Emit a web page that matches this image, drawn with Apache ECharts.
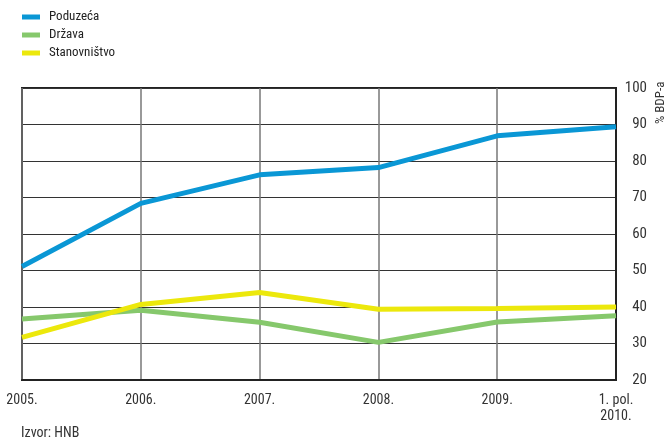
<!DOCTYPE html>
<html><head><meta charset="utf-8">
<script src="https://cdn.jsdelivr.net/npm/echarts@6/dist/echarts.min.js"></script>
<style>html,body{margin:0;padding:0;background:#fff}#c{width:667px;height:442px}</style>
</head><body><div id="c"></div>
<script>
const categories = ['2005.', '2006.', '2007.', '2008.', '2009.', '1. pol.\n2010.'];
const poduzeca = [51.1, 68.4, 76.2, 78.2, 86.9, 89.4];
const drzava = [36.7, 39.1, 35.8, 30.3, 35.9, 37.6];
const stanovnistvo = [31.7, 40.7, 44.0, 39.4, 39.6, 40.0];
const seriesNames = ['Poduzeća', 'Država', 'Stanovništvo'];
const seriesColors = ['#0a97d5', '#86c86c', '#ece80c'];
const yTicks = [20, 100, 10];
const FONT = '"Roboto Condensed", "DejaVu Sans Condensed", sans-serif';
const chart = echarts.init(document.getElementById('c'), null, {renderer: 'canvas'});
const mk = (name, data, color) => ({
  name, type: 'line', data, symbol: 'none', smooth: false,
  lineStyle: {width: 5, color}, itemStyle: {color}
});
const legendTops = [10, 28, 46];
chart.setOption({
  animation: false,
  textStyle: {fontFamily: FONT},
  legend: seriesNames.map((n, i) => ({
    orient: 'vertical', left: 22, top: legendTops[i], padding: 0, itemWidth: 18, itemHeight: 5,
    icon: 'rect', textStyle: {fontFamily: FONT, fontSize: 13, color: '#222', lineHeight: 14, padding: [0, 0, 0, 4]},
    data: [n]
  })),
  grid: {left: 22, right: 51, top: 88, bottom: 62, show: true, borderColor: '#222', borderWidth: 2, containLabel: false},
  xAxis: {
    type: 'category', data: categories, boundaryGap: false,
    axisLine: {show: true, lineStyle: {color: '#222', width: 2}},
    axisTick: {show: false},
    axisLabel: {fontFamily: FONT, fontSize: 14, color: '#333', margin: 12, lineHeight: 16, interval: 0},
    splitLine: {show: true, lineStyle: {color: '#777', width: 1.5}}
  },
  yAxis: {
    type: 'value', position: 'right', min: yTicks[0], max: yTicks[1], interval: yTicks[2],
    axisLine: {show: true, lineStyle: {color: '#222', width: 2}},
    axisTick: {show: false},
    axisLabel: {fontFamily: FONT, fontSize: 15, color: '#333', align: 'right', margin: 31},
    splitLine: {show: true, lineStyle: {color: '#333', width: 1}}
  },
  graphic: [
    {type: 'text', left: 21, top: 426, style: {text: 'Izvor: HNB', font: '14px ' + FONT, fill: '#333'}},
    {type: 'text', x: 667, y: 124, rotation: Math.PI / 2, style: {text: '% BDP-a', font: '13px ' + FONT, fill: '#333', textAlign: 'left', textVerticalAlign: 'bottom'}}
  ],
  series: seriesNames.map((n, i) => mk(n, [poduzeca, drzava, stanovnistvo][i], seriesColors[i]))
});
</script></body></html>
